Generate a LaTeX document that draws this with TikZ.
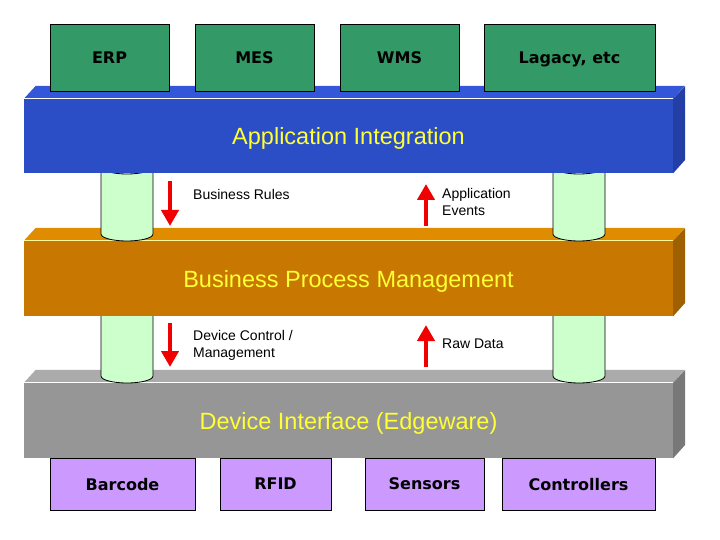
\documentclass[tikz,border=0pt]{standalone}
\usepackage{fontspec}
\setmainfont{Liberation Sans}
\newfontfamily\boxfont{DejaVu Sans}
\usetikzlibrary{arrows.meta}

\definecolor{aiFront}{HTML}{2B4DC6}
\definecolor{aiTop}{HTML}{3456D8}
\definecolor{aiSide}{HTML}{233FA6}
\definecolor{bpmFront}{HTML}{C87800}
\definecolor{bpmTop}{HTML}{E08C00}
\definecolor{bpmSide}{HTML}{9E6000}
\definecolor{diFront}{HTML}{969696}
\definecolor{diTop}{HTML}{ABABAB}
\definecolor{diSide}{HTML}{787878}
\definecolor{appGreen}{HTML}{339966}
\definecolor{devPurple}{HTML}{CC99FF}
\definecolor{pipeGreen}{HTML}{CCFFCC}
\definecolor{barText}{HTML}{FFFF33}
\definecolor{flowRed}{HTML}{F00000}

\tikzset{
  bar/.style={minimum width=649pt, inner sep=0pt, text=barText, text depth=0pt,
    font=\fontsize{23.5}{28}\selectfont},
  appbox/.style={draw=black, fill=appGreen, minimum height=67pt, inner sep=0pt,
    text depth=0pt, font=\boxfont\fontsize{16}{20}\selectfont\bfseries},
  devbox/.style={draw=black, fill=devPurple, minimum height=52pt, inner sep=0pt,
    text depth=0pt, font=\boxfont\fontsize{16}{20}\selectfont\bfseries},
  pipe/.style={draw=black, fill=pipeGreen, line width=0.8pt},
  flow/.style={flowRed, line width=4pt, -{Triangle[width=17pt,length=16pt]}},
  note/.style={anchor=west, inner sep=0pt, align=left,
    font=\fontsize{14}{17}\selectfont}
}

\begin{document}
\begin{tikzpicture}[x=1pt,y=-1pt]
\useasboundingbox (0,0) rectangle (720,540);

% device interface layer
\node[bar, minimum height=75pt, fill=diFront] (di) at (348.5,420.5) {Device Interface (Edgeware)};
\fill[diTop] (di.north west) -- ++(12,-13) -- ++(649,0) -- (di.north east) -- cycle;
\fill[diSide] (di.north east) -- ++(12,-13) -- ++(0,75) -- (di.south east) -- cycle;
\draw[white, line width=0.8pt] (di.north west) -- (di.north east);

% lower pipes
\foreach \cx in {127,579} {
  \filldraw[pipe] (\cx-26,310) -- (\cx-26,376) arc[start angle=180, end angle=360, x radius=26pt, y radius=7pt] -- (\cx+26,310) -- cycle;
}

% business process layer
\node[bar, minimum height=75pt, fill=bpmFront] (bpm) at (348.5,278.5) {Business Process Management};
\fill[bpmTop] (bpm.north west) -- ++(12,-13) -- ++(649,0) -- (bpm.north east) -- cycle;
\fill[bpmSide] (bpm.north east) -- ++(12,-13) -- ++(0,75) -- (bpm.south east) -- cycle;
\draw[yellow!40, line width=0.8pt] (bpm.north west) -- (bpm.north east);

% upper pipes
\foreach \cx in {127,579} {
  \filldraw[pipe] (\cx-26,167) -- (\cx-26,234) arc[start angle=180, end angle=360, x radius=26pt, y radius=7pt] -- (\cx+26,167) -- cycle;
  \draw[pipe] (\cx,167) ellipse[x radius=26pt, y radius=7pt];
}

% application integration layer
\node[bar, minimum height=74pt, fill=aiFront] (ai) at (348.5,136) {Application Integration};
\fill[aiTop] (ai.north west) -- ++(12,-13) -- ++(649,0) -- (ai.north east) -- cycle;
\fill[aiSide] (ai.north east) -- ++(12,-13) -- ++(0,74) -- (ai.south east) -- cycle;
\draw[white, line width=0.8pt] (ai.north west) -- (ai.north east);

% applications
\foreach \x/\w/\n/\t in {109.5/119/erp/ERP, 254.5/119/mes/MES, 399.5/119/wms/WMS, 569.5/171/legacy/{Lagacy, etc}} {
  \node[appbox, minimum width=\w pt] (\n) at (\x,57.5) {\t};
}

% devices
\foreach \x/\w/\n/\t in {122.5/145/barcode/Barcode, 275.5/111/rfid/RFID, 424.5/119/sensors/Sensors, 578.5/153/ctrl/Controllers} {
  \node[devbox, minimum width=\w pt] (\n) at (\x,484) {\t};
}

% flows
\coordinate (rulesA) at (170,181);
\coordinate (rulesB) at (170,226);
\coordinate (eventsA) at (426,226);
\coordinate (eventsB) at (426,184);
\coordinate (ctrlA) at (170,323);
\coordinate (ctrlB) at (170,367);
\coordinate (rawA) at (426,367);
\coordinate (rawB) at (426,325);
\draw[flow] (rulesA) -- (rulesB);
\draw[flow] (eventsA) -- (eventsB);
\draw[flow] (ctrlA) -- (ctrlB);
\draw[flow] (rawA) -- (rawB);

\node[note] (rules) at (193,194) {Business Rules};
\node[note] (events) at (442,201.5) {Application\\Events};
\node[note] (devctrl) at (193,345) {Device Control /\\Management};
\node[note] (raw) at (442,344) {Raw Data};
\end{tikzpicture}
\end{document}
